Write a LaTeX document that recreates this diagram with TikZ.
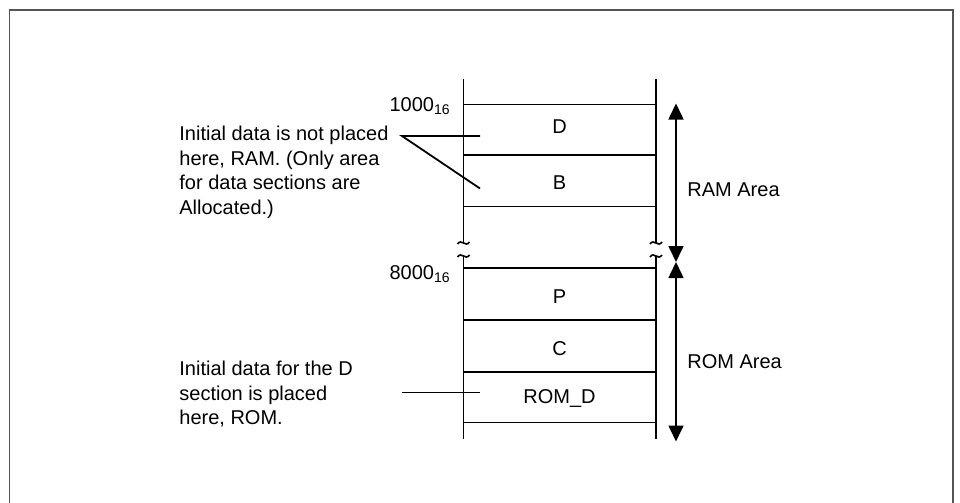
\documentclass[tikz,border=0pt]{standalone}
\usepackage{fontspec}
\setmainfont{Liberation Sans}
\usetikzlibrary{arrows.meta}
\begin{document}
\begin{tikzpicture}[x=0.5pt,y=-0.5pt,
  frameline/.style={draw={rgb,255:red,85;green,85;blue,85},line width=0.8pt},
  memline/.style={draw=black,line width=0.9pt},
  tildemark/.style={draw=black,line width=0.8pt},
  callout/.style={draw=black,line width=0.9pt},
  dimarrow/.style={draw=black,line width=0.8pt,{Triangle[length=8pt,width=7.5pt]}-{Triangle[length=8pt,width=7.5pt]}},
  lbl/.style={font=\fontsize{10}{12.35}\selectfont,inner sep=0pt},
  note/.style={lbl,align=left,anchor=north west}]
\useasboundingbox (0,0) rectangle (960,503);
% outer frame (bottom edge outside the picture)
\draw[frameline] (9.5,510) -- (9.5,10) -- (953,10) -- (953,510);
% memory column verticals with break marks
\foreach \x in {463.5,656} {
  \draw[memline] (\x,79) -- (\x,243);
  \draw[memline] (\x,256) -- (\x,439);
  \draw[tildemark] (\x-6,244) .. controls (\x-2,238) and (\x+2,248) .. (\x+6,242);
  \draw[tildemark] (\x-6,257) .. controls (\x-2,251) and (\x+2,261) .. (\x+6,255);
}
% horizontal section boundaries
\foreach \y in {104.5,155,206.5,268,320,372,422.5}
  \draw[memline] (463.5,\y) -- (656,\y);
% section labels
\node[lbl] (d) at (559.5,127) {D};
\node[lbl] (b) at (559.5,183) {B};
\node[lbl] (p) at (559.5,297) {P};
\node[lbl] (c) at (559.5,349) {C};
\node[lbl] (romd) at (559.5,399) {ROM\_D};
% addresses
\node[lbl,anchor=east] (a1000) at (451,106) {1000\textsubscript{16}};
\node[lbl,anchor=east] (a8000) at (451,274) {8000\textsubscript{16}};
% area arrows
\coordinate (ramtop) at (676,103.5);
\coordinate (mid) at (676,262);
\coordinate (rombot) at (676,441.5);
\draw[dimarrow] (ramtop) -- (mid);
\draw[dimarrow] (mid) -- (rombot);
\node[lbl,anchor=west] (ram) at (687,190) {RAM Area};
\node[lbl,anchor=west] (rom) at (687,362) {ROM Area};
% notes
\node[note] (n1) at (179,125.5) {Initial data is not placed\\here, RAM. (Only area\\for data sections are\\Allocated.)};
\node[note] (n2) at (179,360.5) {Initial data for the D\\section is placed\\here, ROM.};
% callout lines
\coordinate (k1) at (402,136);
\coordinate (k1a) at (480,136);
\coordinate (k1b) at (480,188.5);
\draw[callout] (k1a) -- (k1) -- (k1b);
\coordinate (k2) at (402,392.5);
\coordinate (k2a) at (480,392.5);
\draw[callout] (k2) -- (k2a);
\end{tikzpicture}
\end{document}
